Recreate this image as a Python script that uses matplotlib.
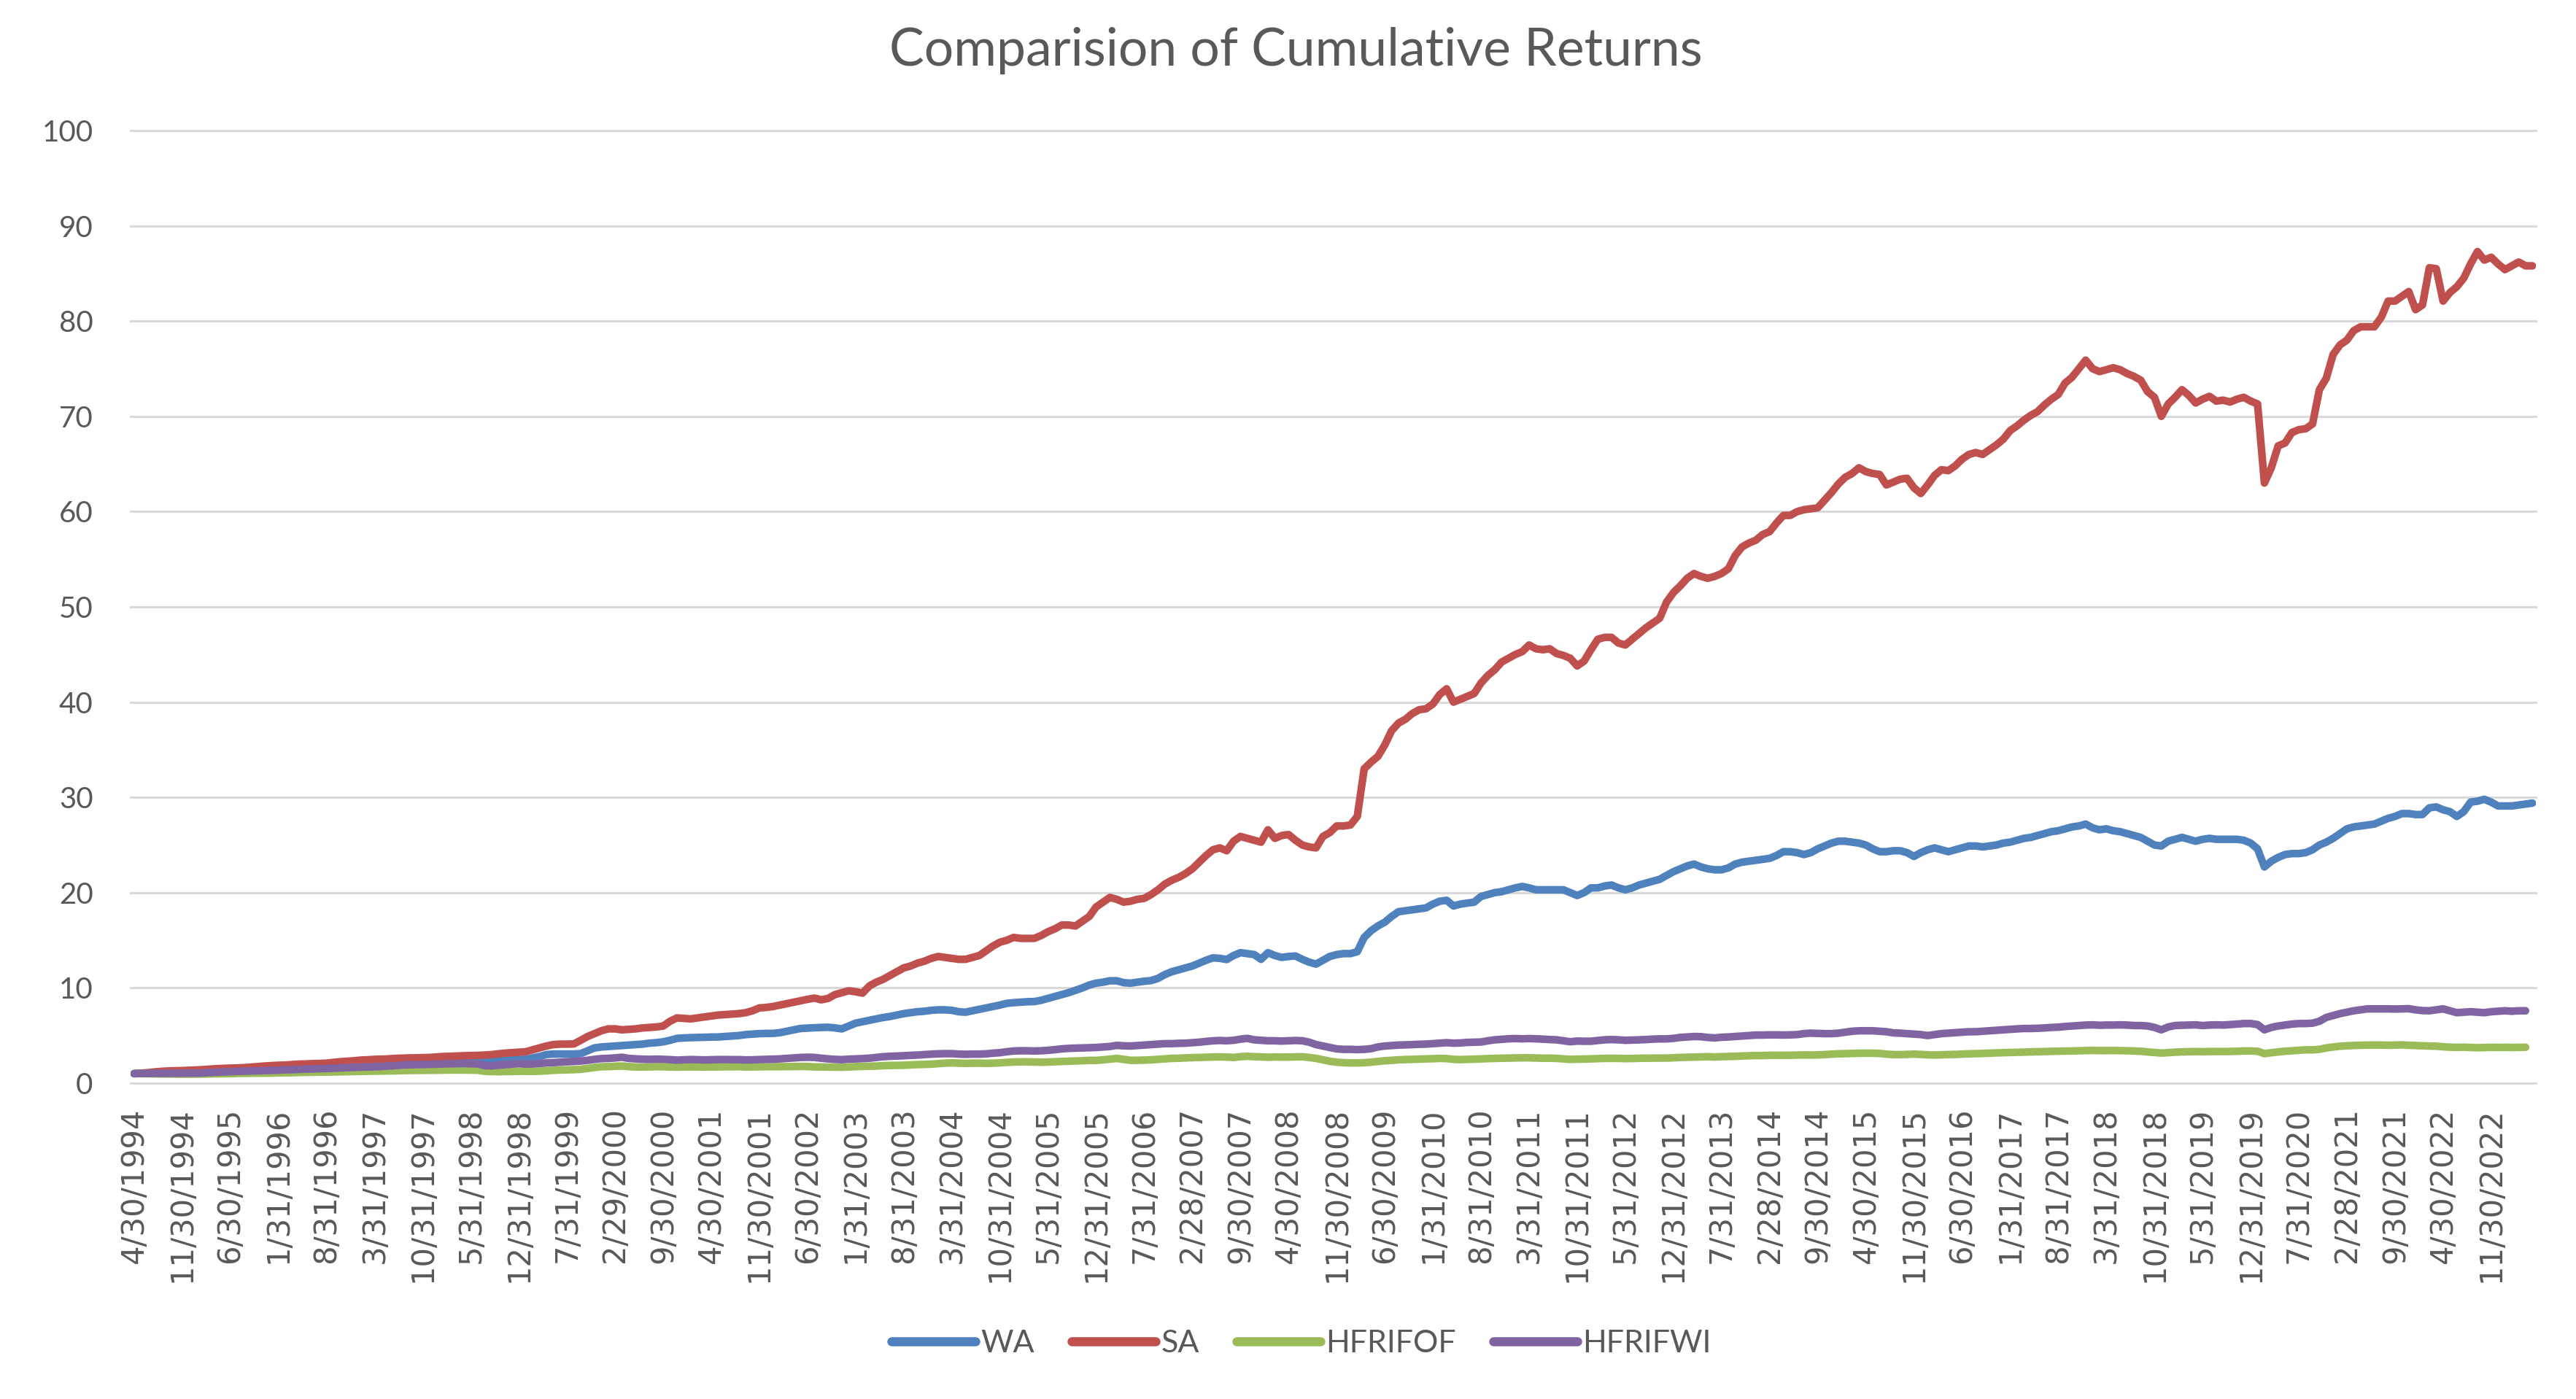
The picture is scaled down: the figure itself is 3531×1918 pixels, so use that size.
import numpy as np
import pandas as pd
import matplotlib
matplotlib.use("Agg")
import matplotlib.pyplot as plt

# Monthly cumulative growth of 1 (Apr 1994 onward)
wa = [
    1.00, 1.03, 1.06, 1.10, 1.12, 1.15, 1.18, 1.20, 1.22,  # 1994
    1.25, 1.28, 1.30, 1.33, 1.36, 1.40, 1.42, 1.45, 1.48, 1.50, 1.53, 1.56,
    1.60, 1.62, 1.65, 1.68, 1.70, 1.72, 1.75, 1.78, 1.80, 1.83, 1.86, 1.90,
    1.93, 1.95, 1.98, 2.00, 2.02, 2.04, 2.06, 2.08, 2.10, 2.12, 2.14, 2.16,
    2.18, 2.20, 2.22, 2.24, 2.26, 2.28, 2.30, 2.32, 2.36, 2.40, 2.45, 2.50,
    2.50, 2.65, 2.80, 3.00, 3.06, 3.06, 3.06, 3.06, 3.10, 3.40, 3.70, 3.80,  # 1999
    3.85, 3.90, 3.95, 4.00, 4.05, 4.10, 4.20, 4.25, 4.34, 4.50, 4.70, 4.75,
    4.78, 4.80, 4.82, 4.84, 4.85, 4.90, 4.95, 5.00, 5.10, 5.15, 5.20, 5.22,
    5.23, 5.30, 5.45, 5.60, 5.74, 5.78, 5.82, 5.85, 5.87, 5.80, 5.70, 6.00,
    6.30, 6.45, 6.60, 6.75, 6.89, 7.00, 7.15, 7.30, 7.40, 7.50, 7.55, 7.65,
    7.70, 7.70, 7.65, 7.50, 7.45, 7.60, 7.75, 7.90, 8.05, 8.20, 8.38, 8.45,  # 2004
    8.50, 8.55, 8.57, 8.70, 8.90, 9.10, 9.30, 9.50, 9.75, 10.00, 10.30, 10.50,
    10.60, 10.75, 10.75, 10.55, 10.50, 10.60, 10.70, 10.77, 11.00, 11.40, 11.70, 11.90,
    12.10, 12.30, 12.60, 12.90, 13.16, 13.10, 12.98, 13.40, 13.70, 13.60, 13.50, 13.00,
    13.70, 13.40, 13.20, 13.30, 13.35, 13.00, 12.70, 12.50, 12.90, 13.30, 13.50, 13.60,
    13.60, 13.80, 15.30, 16.00, 16.50, 16.90, 17.50, 18.00, 18.10, 18.20, 18.30, 18.40,  # 2009
    18.80, 19.10, 19.20, 18.60, 18.80, 18.90, 19.00, 19.60, 19.80, 20.00, 20.10, 20.30,
    20.50, 20.65, 20.50, 20.30, 20.30, 20.30, 20.30, 20.30, 20.00, 19.70, 20.00, 20.50,
    20.50, 20.70, 20.80, 20.50, 20.30, 20.50, 20.80, 21.00, 21.20, 21.40, 21.80, 22.20,
    22.50, 22.80, 23.00, 22.70, 22.50, 22.40, 22.40, 22.60, 23.00, 23.20, 23.30, 23.40,
    23.50, 23.60, 23.90, 24.30, 24.30, 24.20, 24.00, 24.20, 24.60, 24.90, 25.20, 25.40,  # 2014
    25.40, 25.30, 25.20, 25.00, 24.60, 24.30, 24.30, 24.40, 24.40, 24.20, 23.80, 24.20,
    24.50, 24.70, 24.50, 24.30, 24.50, 24.70, 24.90, 24.90, 24.80, 24.90, 25.00, 25.20,
    25.30, 25.50, 25.70, 25.80, 26.00, 26.20, 26.40, 26.50, 26.70, 26.90, 27.00, 27.20,
    26.80, 26.60, 26.70, 26.50, 26.40, 26.20, 26.00, 25.80, 25.40, 25.00, 24.90, 25.40,
    25.60, 25.80, 25.60, 25.40, 25.60, 25.70, 25.60, 25.60, 25.60, 25.60, 25.50, 25.20,  # 2019
    24.60, 22.70, 23.30, 23.70, 24.00, 24.10, 24.10, 24.20, 24.50, 25.00, 25.30, 25.70,
    26.20, 26.70, 26.90, 27.00, 27.10, 27.20, 27.50, 27.80, 28.00, 28.30, 28.30, 28.20,
    28.20, 28.90, 29.00, 28.70, 28.50, 28.00, 28.50, 29.50, 29.60, 29.80, 29.50, 29.10,
    29.10, 29.10, 29.20, 29.30, 29.40,  # 2023
]

sa = [
    1.00, 1.05, 1.10, 1.18, 1.24, 1.28, 1.30, 1.32, 1.35,  # 1994
    1.38, 1.42, 1.47, 1.52, 1.55, 1.58, 1.60, 1.63, 1.68, 1.74, 1.80, 1.84,
    1.88, 1.90, 1.95, 2.00, 2.02, 2.05, 2.07, 2.10, 2.18, 2.25, 2.30, 2.35,
    2.42, 2.45, 2.50, 2.52, 2.55, 2.60, 2.62, 2.65, 2.66, 2.68, 2.70, 2.75,
    2.80, 2.82, 2.85, 2.88, 2.90, 2.92, 2.95, 3.00, 3.08, 3.15, 3.20, 3.25,
    3.30, 3.50, 3.70, 3.90, 4.05, 4.10, 4.10, 4.12, 4.50, 4.90, 5.20, 5.50,  # 1999
    5.70, 5.70, 5.60, 5.65, 5.70, 5.80, 5.85, 5.90, 6.00, 6.50, 6.85, 6.80,
    6.75, 6.85, 6.95, 7.05, 7.15, 7.20, 7.25, 7.30, 7.40, 7.60, 7.90, 7.95,
    8.05, 8.20, 8.35, 8.50, 8.65, 8.80, 8.93, 8.75, 8.90, 9.30, 9.50, 9.70,
    9.60, 9.45, 10.20, 10.60, 10.90, 11.30, 11.70, 12.10, 12.30, 12.60, 12.80, 13.10,
    13.30, 13.20, 13.10, 13.00, 13.00, 13.20, 13.40, 13.90, 14.40, 14.80, 15.00, 15.30,  # 2004
    15.20, 15.20, 15.20, 15.50, 15.90, 16.20, 16.60, 16.60, 16.50, 17.00, 17.50, 18.50,
    19.00, 19.50, 19.30, 19.00, 19.10, 19.30, 19.40, 19.80, 20.30, 20.90, 21.30, 21.60,
    22.00, 22.50, 23.20, 23.90, 24.50, 24.70, 24.40, 25.40, 25.90, 25.70, 25.50, 25.30,
    26.60, 25.70, 26.00, 26.10, 25.50, 25.00, 24.80, 24.70, 25.90, 26.30, 27.00, 27.00,
    27.10, 28.00, 33.00, 33.70, 34.30, 35.50, 37.00, 37.80, 38.20, 38.80, 39.20, 39.30,  # 2009
    39.80, 40.80, 41.40, 40.00, 40.30, 40.60, 40.90, 42.00, 42.80, 43.40, 44.20, 44.60,
    45.00, 45.30, 46.00, 45.60, 45.50, 45.60, 45.10, 44.90, 44.60, 43.80, 44.30, 45.50,
    46.60, 46.80, 46.80, 46.20, 46.00, 46.60, 47.20, 47.80, 48.30, 48.80, 50.50, 51.50,
    52.20, 53.00, 53.50, 53.20, 53.00, 53.20, 53.50, 54.00, 55.40, 56.30, 56.70, 57.00,
    57.60, 57.90, 58.80, 59.60, 59.60, 60.00, 60.20, 60.30, 60.40, 61.20, 62.00, 62.90,  # 2014
    63.60, 64.00, 64.60, 64.20, 64.00, 63.90, 62.80, 63.10, 63.40, 63.50, 62.50, 61.90,
    62.80, 63.80, 64.40, 64.30, 64.80, 65.50, 66.00, 66.20, 66.00, 66.50, 67.00, 67.60,
    68.50, 69.00, 69.60, 70.10, 70.50, 71.20, 71.80, 72.30, 73.50, 74.10, 75.00, 75.90,
    75.00, 74.70, 74.90, 75.10, 74.90, 74.50, 74.20, 73.80, 72.60, 72.00, 70.00, 71.30,
    72.00, 72.80, 72.20, 71.40, 71.80, 72.10, 71.60, 71.70, 71.50, 71.80, 72.00, 71.60,  # 2019
    71.30, 63.00, 64.60, 66.90, 67.20, 68.30, 68.60, 68.70, 69.20, 72.80, 74.00, 76.50,
    77.50, 78.00, 79.00, 79.40, 79.40, 79.40, 80.40, 82.10, 82.10, 82.60, 83.10, 81.20,
    81.70, 85.60, 85.50, 82.10, 83.00, 83.60, 84.50, 86.00, 87.30, 86.40, 86.70, 86.00,
    85.40, 85.80, 86.20, 85.80, 85.80,  # 2023
]

hfrifof = [
    1.00, 1.00, 0.99, 0.98, 0.97, 0.96, 0.95, 0.95, 0.95,  # 1994
    0.95, 0.96, 0.97, 0.98, 0.99, 1.00, 1.02, 1.03, 1.04, 1.05, 1.05, 1.06,
    1.08, 1.09, 1.10, 1.12, 1.14, 1.15, 1.16, 1.17, 1.18, 1.19, 1.20, 1.22,
    1.24, 1.25, 1.26, 1.27, 1.28, 1.30, 1.32, 1.33, 1.34, 1.35, 1.35, 1.36,
    1.37, 1.38, 1.38, 1.38, 1.37, 1.36, 1.25, 1.22, 1.21, 1.22, 1.23, 1.25,
    1.25, 1.24, 1.26, 1.30, 1.35, 1.38, 1.40, 1.42, 1.45, 1.55, 1.65, 1.72,  # 1999
    1.74, 1.78, 1.80, 1.74, 1.70, 1.70, 1.71, 1.73, 1.72, 1.70, 1.68, 1.70,
    1.71, 1.70, 1.69, 1.70, 1.71, 1.72, 1.72, 1.73, 1.70, 1.71, 1.72, 1.73,
    1.73, 1.73, 1.74, 1.75, 1.76, 1.75, 1.71, 1.70, 1.69, 1.68, 1.67, 1.70,
    1.74, 1.76, 1.78, 1.80, 1.84, 1.86, 1.87, 1.88, 1.92, 1.95, 1.97, 2.00,
    2.05, 2.10, 2.13, 2.10, 2.08, 2.10, 2.10, 2.08, 2.10, 2.13, 2.18, 2.22,  # 2004
    2.24, 2.24, 2.22, 2.20, 2.22, 2.25, 2.28, 2.30, 2.33, 2.36, 2.39, 2.39,
    2.45, 2.52, 2.60, 2.50, 2.40, 2.40, 2.42, 2.45, 2.50, 2.55, 2.60, 2.62,
    2.65, 2.68, 2.70, 2.72, 2.75, 2.76, 2.74, 2.70, 2.78, 2.82, 2.78, 2.76,
    2.72, 2.75, 2.74, 2.74, 2.76, 2.77, 2.70, 2.60, 2.45, 2.30, 2.20, 2.15,
    2.13, 2.12, 2.15, 2.20, 2.28, 2.35, 2.40, 2.45, 2.48, 2.50, 2.52, 2.55,  # 2009
    2.57, 2.60, 2.58, 2.50, 2.47, 2.50, 2.52, 2.55, 2.58, 2.60, 2.62, 2.63,
    2.65, 2.66, 2.66, 2.64, 2.62, 2.62, 2.60, 2.55, 2.50, 2.52, 2.53, 2.55,
    2.58, 2.60, 2.61, 2.60, 2.58, 2.59, 2.61, 2.62, 2.63, 2.63, 2.64, 2.66,
    2.70, 2.72, 2.74, 2.76, 2.78, 2.75, 2.78, 2.80, 2.82, 2.85, 2.88, 2.90,
    2.90, 2.92, 2.93, 2.92, 2.93, 2.95, 2.96, 2.95, 2.97, 3.00, 3.05, 3.08,  # 2014
    3.10, 3.12, 3.14, 3.15, 3.15, 3.12, 3.05, 3.00, 3.00, 3.02, 3.05, 3.02,
    2.98, 2.95, 2.98, 3.00, 3.02, 3.05, 3.08, 3.10, 3.12, 3.15, 3.18, 3.20,
    3.22, 3.24, 3.26, 3.28, 3.30, 3.32, 3.34, 3.36, 3.37, 3.38, 3.40, 3.42,
    3.44, 3.42, 3.42, 3.43, 3.42, 3.40, 3.38, 3.35, 3.28, 3.22, 3.16, 3.20,
    3.25, 3.28, 3.30, 3.32, 3.30, 3.32, 3.33, 3.32, 3.33, 3.35, 3.38, 3.38,  # 2019
    3.35, 3.10, 3.20, 3.28, 3.35, 3.40, 3.45, 3.50, 3.50, 3.55, 3.70, 3.80,
    3.88, 3.92, 3.96, 3.98, 4.00, 4.00, 4.00, 3.98, 4.00, 4.02, 3.98, 3.96,
    3.92, 3.90, 3.88, 3.82, 3.78, 3.76, 3.78, 3.75, 3.72, 3.74, 3.76, 3.75,
    3.76, 3.75, 3.76, 3.77,  # 2023
]

hfrifwi = [
    1.00, 1.01, 1.02, 1.02, 1.03, 1.03, 1.04, 1.04, 1.05,  # 1994
    1.06, 1.08, 1.12, 1.15, 1.18, 1.21, 1.24, 1.26, 1.28, 1.30, 1.32, 1.34,
    1.37, 1.40, 1.42, 1.45, 1.48, 1.50, 1.52, 1.54, 1.57, 1.60, 1.63, 1.66,
    1.68, 1.70, 1.72, 1.75, 1.80, 1.85, 1.90, 1.93, 1.95, 1.96, 1.98, 2.00,
    2.02, 2.04, 2.05, 2.06, 2.04, 2.02, 1.85, 1.82, 1.88, 1.95, 2.00, 2.05,
    2.00, 2.02, 2.06, 2.12, 2.16, 2.20, 2.25, 2.28, 2.32, 2.40, 2.50, 2.58,  # 1999
    2.60, 2.65, 2.72, 2.60, 2.55, 2.52, 2.50, 2.52, 2.50, 2.47, 2.42, 2.45,
    2.48, 2.46, 2.44, 2.46, 2.48, 2.48, 2.47, 2.47, 2.44, 2.45, 2.48, 2.50,
    2.52, 2.55, 2.60, 2.65, 2.70, 2.72, 2.70, 2.62, 2.55, 2.50, 2.47, 2.52,
    2.55, 2.58, 2.62, 2.70, 2.78, 2.82, 2.85, 2.88, 2.92, 2.95, 3.00, 3.05,
    3.08, 3.10, 3.10, 3.05, 3.03, 3.05, 3.05, 3.08, 3.15, 3.20, 3.30, 3.38,  # 2004
    3.40, 3.40, 3.38, 3.40, 3.45, 3.52, 3.60, 3.65, 3.68, 3.70, 3.72, 3.75,
    3.80, 3.85, 3.97, 3.92, 3.90, 3.95, 4.00, 4.05, 4.10, 4.15, 4.15, 4.18,
    4.20, 4.25, 4.30, 4.38, 4.45, 4.48, 4.45, 4.50, 4.62, 4.70, 4.55, 4.50,
    4.45, 4.45, 4.42, 4.45, 4.48, 4.45, 4.30, 4.05, 3.90, 3.75, 3.60, 3.55,
    3.55, 3.52, 3.55, 3.62, 3.80, 3.90, 3.95, 4.00, 4.02, 4.05, 4.08, 4.10,  # 2009
    4.15, 4.20, 4.25, 4.20, 4.22, 4.28, 4.30, 4.32, 4.45, 4.55, 4.60, 4.66,
    4.68, 4.66, 4.68, 4.66, 4.62, 4.58, 4.55, 4.45, 4.35, 4.42, 4.40, 4.40,
    4.48, 4.55, 4.58, 4.55, 4.50, 4.52, 4.55, 4.58, 4.62, 4.65, 4.65, 4.70,
    4.80, 4.85, 4.90, 4.88, 4.80, 4.75, 4.82, 4.85, 4.90, 4.95, 5.00, 5.05,
    5.05, 5.07, 5.07, 5.05, 5.07, 5.10, 5.20, 5.25, 5.22, 5.20, 5.20, 5.25,  # 2014
    5.35, 5.45, 5.50, 5.50, 5.50, 5.45, 5.40, 5.28, 5.25, 5.20, 5.15, 5.10,
    5.00, 5.10, 5.20, 5.25, 5.30, 5.35, 5.40, 5.40, 5.45, 5.50, 5.55, 5.60,
    5.65, 5.70, 5.74, 5.74, 5.76, 5.80, 5.85, 5.88, 5.95, 6.00, 6.05, 6.10,
    6.12, 6.08, 6.10, 6.10, 6.12, 6.10, 6.05, 6.05, 6.00, 5.85, 5.60, 5.90,
    6.05, 6.08, 6.10, 6.12, 6.05, 6.10, 6.12, 6.10, 6.15, 6.20, 6.26, 6.26,  # 2019
    6.15, 5.60, 5.85, 6.00, 6.10, 6.20, 6.26, 6.26, 6.30, 6.50, 6.90, 7.10,
    7.30, 7.45, 7.60, 7.70, 7.80, 7.80, 7.80, 7.80, 7.78, 7.80, 7.82, 7.70,
    7.62, 7.60, 7.70, 7.80, 7.60, 7.40, 7.45, 7.50, 7.45, 7.40, 7.50, 7.55,
    7.60, 7.55, 7.60, 7.60,  # 2023
]

series = [("WA", wa, "#4F81BD"), ("SA", sa, "#C0504D"),
          ("HFRIFOF", hfrifof, "#9BBB59"), ("HFRIFWI", hfrifwi, "#8064A2")]

# category axis: month-end dates, one label every 7 months
dates = pd.date_range("1994-04-30", periods=len(sa), freq="ME")
date_labels = [f"{d.month}/{d.day}/{d.year}" for d in dates]
tick_step = 7

text_grey = "#595959"

fig = plt.figure(figsize=(35.31, 19.18), dpi=100)
ax = fig.add_axes([179 / 3531, 1 - 1485 / 1918, 3297 / 3531, 1306 / 1918])

for name, vals, col in series:
    ax.plot(np.arange(len(vals)), vals, color=col, lw=7.5, label=name,
            solid_joinstyle="round", solid_capstyle="round")

ax.set_xlim(-0.5, len(sa) - 0.5)
ax.set_ylim(0, 100)
ax.set_yticks(np.arange(0, 101, 10))
ax.yaxis.grid(True, color="#D9D9D9", lw=2.2)
for gl in ax.get_ygridlines():
    gl.set_clip_on(False)
ax.set_axisbelow(True)

ticks = np.arange(0, len(sa), tick_step)
ax.set_xticks(ticks)
ax.set_xticklabels([date_labels[i] for i in ticks], rotation=90,
                   fontsize=30, color=text_grey, family="DejaVu Sans")
ax.tick_params(axis="x", length=0, pad=24)
ax.tick_params(axis="y", length=0, pad=37, labelsize=29, labelcolor=text_grey)
for lbl in ax.get_yticklabels():
    lbl.set_family("Lato")

for s in ax.spines.values():
    s.set_visible(False)

fig.text(0.503, 1 - 90 / 1918, "Comparision of Cumulative Returns",
         ha="center", va="baseline", fontsize=51.5, color=text_grey, family="Lato")

leg = fig.legend(loc="center", bbox_to_anchor=(0.5052, 1 - 1842 / 1918), ncol=4,
                 frameon=False, handlelength=2.67, handletextpad=0.16,
                 columnspacing=1.2, prop={"family": "Lato", "size": 31})
for t in leg.get_texts():
    t.set_color(text_grey)
for ln in leg.get_lines():
    ln.set_linewidth(9)

fig.savefig("out.png", dpi=100)
